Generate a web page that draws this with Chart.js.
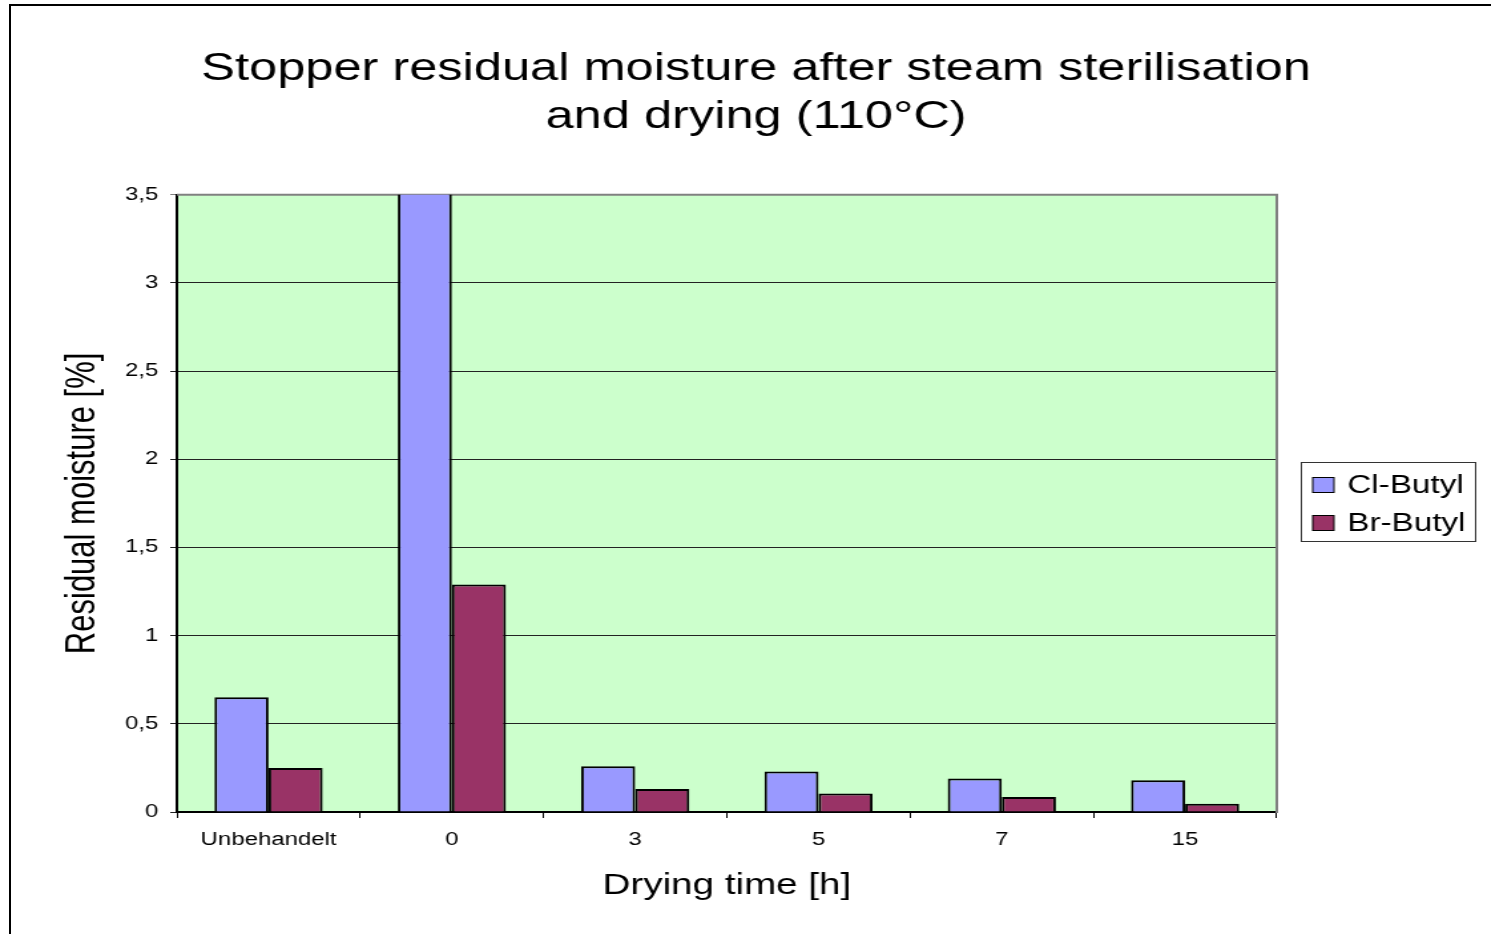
<!DOCTYPE html>
<html>
<head>
<meta charset="utf-8">
<title>Stopper residual moisture</title>
<script src="https://cdn.jsdelivr.net/npm/chart.js@4.4.1/dist/chart.umd.min.js"></script>
<style>
    html, body { margin: 0; padding: 0; background: #fff; overflow: hidden; width: 1491px; height: 934px; }
    #frame { position: absolute; left: 9px; top: 4px; width: 1600px; height: 1000px; border-left: 2px solid #000; border-top: 2px solid #000; }
    /* the source picture is stretched sideways, so the canvas is too */
    #wrap { position: absolute; left: 0; top: 0; transform: scaleX(1.33); transform-origin: 0 0; }
</style>
</head>
<body>
<div id="frame"></div>
<div id="wrap"><canvas id="chart" width="1121" height="934"></canvas></div>
<script>
// data
const categories = ['Unbehandelt', '0', '3', '5', '7', '15'];
const clButyl = [0.65, 3.9, 0.26, 0.23, 0.19, 0.18];
const brButyl = [0.25, 1.29, 0.13, 0.105, 0.085, 0.047];
const seriesNames = ['Cl-Butyl', 'Br-Butyl'];
const seriesColors = ['#9999FF', '#993366'];
const titleLines = ['Stopper residual moisture after steam sterilisation', 'and drying (110°C)'];
const yAxisTitle = 'Residual moisture [%]';
const xAxisTitle = 'Drying time [h]';
const yMax = 3.5;
const yStep = 0.5;

const FONT = '"Liberation Sans", Arial, Helvetica, sans-serif';

// green plot background + grey top edge
const plotFrame = {
    id: 'plotFrame',
    beforeDraw(chart) {
        const { ctx, chartArea: a } = chart;
        ctx.save();
        ctx.fillStyle = '#CCFFCC';
        ctx.fillRect(a.left, a.top, a.right - a.left, a.bottom - a.top);
        ctx.restore();
    },
    beforeDatasetsDraw(chart) {
        const { ctx, chartArea: a } = chart;
        ctx.save();
        ctx.strokeStyle = '#808080';
        ctx.lineWidth = 2;
        ctx.beginPath();
        ctx.moveTo(a.left, a.top);
        ctx.lineTo(a.right + 1, a.top);
        ctx.stroke();
        ctx.restore();
    }
};

// boxed legend on the right, like the Excel one
const boxLegend = {
    id: 'boxLegend',
    afterDraw(chart) {
        const ctx = chart.ctx;
        const x = chart.chartArea.right + 18, y = 462, w = 131, h = 79;
        ctx.save();
        ctx.fillStyle = '#fff';
        ctx.fillRect(x, y, w, h);
        ctx.strokeStyle = '#333';
        ctx.lineWidth = 1;
        ctx.strokeRect(x + 0.5, y + 0.5, w, h);
        ctx.font = '25px ' + FONT;
        ctx.textBaseline = 'middle';
        chart.data.datasets.forEach((ds, i) => {
            const cy = y + 23 + i * 38;
            ctx.fillStyle = ds.backgroundColor;
            ctx.fillRect(x + 9, cy - 7.5, 16, 15);
            ctx.strokeStyle = '#000';
            ctx.lineWidth = 1;
            ctx.strokeRect(x + 9, cy - 7.5, 16, 15);
            ctx.fillStyle = '#000';
            ctx.fillText(ds.label, x + 35, cy + 1);
        });
        ctx.restore();
    }
};

const gridColor = (c) => (c.tick && c.tick.value === yMax ? '#808080' : '#222');

new Chart(document.getElementById('chart'), {
    type: 'bar',
    data: {
        labels: categories,
        datasets: [
            { label: seriesNames[0], data: clButyl, backgroundColor: seriesColors[0], borderColor: '#000', borderWidth: 2 },
            { label: seriesNames[1], data: brButyl, backgroundColor: seriesColors[1], borderColor: '#000', borderWidth: 2 }
        ]
    },
    options: {
        responsive: false,
        animation: false,
        layout: { padding: { left: 16, right: 0, top: 0, bottom: 0 } },
        datasets: { bar: { categoryPercentage: 0.59, barPercentage: 1 } },
        plugins: {
            legend: { display: false },
            tooltip: { enabled: false },
            title: {
                display: true,
                text: titleLines,
                color: '#000',
                font: { family: FONT, size: 38, weight: 'normal', lineHeight: 1.26 },
                padding: { top: 46, bottom: 53 }
            }
        },
        scales: {
            x: {
                ticks: { color: '#000', font: { family: FONT, size: 18 }, padding: 11, maxRotation: 0, autoSkip: false },
                grid: { display: true, drawOnChartArea: false, drawTicks: true, tickLength: 6, tickColor: '#000', offset: true },
                border: { color: '#000', width: 2 },
                title: { display: true, text: xAxisTitle, color: '#000', font: { family: FONT, size: 29 }, padding: { top: 0, bottom: 31 } },
                afterFit(s) { s.height = 122; }
            },
            y: {
                min: 0,
                max: yMax,
                ticks: {
                    stepSize: yStep,
                    color: '#000',
                    font: { family: FONT, size: 18 },
                    padding: 9,
                    callback: (v) => String(v).replace('.', ',')
                },
                grid: { color: gridColor, tickColor: gridColor, lineWidth: 1, tickLength: 5 },
                border: { color: '#000', width: 2 },
                title: { display: true, text: yAxisTitle, color: '#000', font: { family: FONT, size: 31 }, padding: { top: 28, bottom: 0 } },
                afterFit(s) { s.width = 117; }
            },
            // empty axis that only reserves the legend space and draws the grey right edge
            y2: {
                position: 'right',
                min: 0,
                max: 1,
                ticks: { display: false },
                grid: { display: false, drawTicks: false },
                border: { display: true, color: '#808080', width: 2 },
                afterFit(s) { s.width = 161; }
            }
        }
    },
    plugins: [plotFrame, boxLegend]
});
</script>
</body>
</html>
